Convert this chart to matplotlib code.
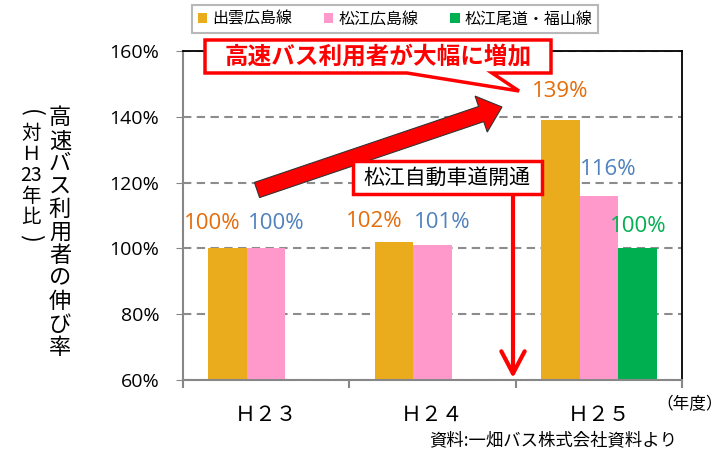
import matplotlib.pyplot as plt
from matplotlib.patches import Polygon, FancyArrow, FancyArrowPatch, Rectangle
import numpy as np

plt.rcParams['font.family'] = ['Noto Sans CJK JP', 'DejaVu Sans']

# data
years = ['Ｈ２３', 'Ｈ２４', 'Ｈ２５']
series = ['出雲広島線', '松江広島線', '松江尾道・福山線']
izumo = [100, 102, 139]
matsue = [100, 101, 116]
onomichi = [np.nan, np.nan, 100]
yticks = [60, 80, 100, 120, 140, 160]

bar_colors = ['#EAAC1C', '#FF99CC', '#00B050']
label_colors = ['#E46C0A', '#4F81BD', '#00B050']

W, H = 724, 453
fig = plt.figure(figsize=(W / 100, H / 100), dpi=100)
ax = fig.add_axes([183 / W, 1 - 380 / H, (682 - 183) / W, (380 - 51) / H])


def px(x, y):
    # pixel position (from top-left) -> inches for dpi_scale_trans
    return (x / 100, (H - y) / 100)


x = np.arange(len(years))
width = 0.232
# label nudges in pixels (dx, dy above the bar top), as placed by hand in the original
nudges = [[(-15, 25), (-20, 20), (0, 29)],
          [(10, 25), (10, 23), (9, 26)],
          [(0, 0), (0, 0), (1, 22)]]

handles = []
for i, vals in enumerate([izumo, matsue, onomichi]):
    pos = x + (i - 1) * width
    b = ax.bar(pos, vals, width, color=bar_colors[i], label=series[i], zorder=2)
    handles.append(b)
    for j, (p, v) in enumerate(zip(pos, vals)):
        if np.isnan(v):
            continue
        dx, dy = nudges[i][j]
        ax.annotate(f'{v:.0f}%', xy=(p, v), xytext=(dx, dy), textcoords='offset pixels',
                    ha='center', va='center', color=label_colors[i], fontsize=16,
                    family='Open Sans', zorder=5)

ax.set_ylim(60, 160)
ax.set_yticks(yticks)
ax.set_yticklabels([f'{t}%' for t in yticks], family='Open Sans', fontsize=14)
ax.tick_params(axis='y', direction='out', length=5, color='#878787', pad=12)

ax.set_xlim(-0.5, 2.5)
ax.set_xticks([-0.5, 0.5, 1.5, 2.5])
ax.set_xticklabels([])
ax.set_xticks(x, minor=True)
ax.set_xticklabels(years, minor=True, fontsize=15)
ax.tick_params(axis='x', which='major', direction='out', length=6, color='#878787', width=1.5)
ax.tick_params(axis='x', which='minor', length=0, pad=17)

for s in ['left', 'bottom']:
    ax.spines[s].set_color('#878787')
    ax.spines[s].set_linewidth(1.5)
for s in ['top', 'right']:
    ax.spines[s].set_color('black')
    ax.spines[s].set_linewidth(1.3)

ax.set_axisbelow(True)
ax.yaxis.grid(True, color='#8C8C8C', linestyle=(0, (4, 2.6)), linewidth=1.5)

# vertical y label (two columns)
col1 = '高速バス利用者の伸び率'
for k, ch in enumerate(col1):
    fig.text(60 / W, 1 - (118 + 22.9 * k) / H, ch, ha='center', va='center', fontsize=16)
col2 = ['(', '対', 'Ｈ', '23', '年', '比', ')']
for k, ch in enumerate(col2):
    paren = ch in '()'
    fig.text(31 / W, 1 - (113 + 20.8 * k) / H, ch, ha='center', va='center',
             fontsize=17 if paren else 14, rotation=-90 if paren else 0)

# legend
leg = fig.legend(handles, series, loc='center', bbox_to_anchor=(395 / W, 1 - 19 / H),
                 ncol=3, frameon=True, fancybox=False, edgecolor='#A6A6A6',
                 fontsize=11.5, handlelength=0.6, handleheight=0.6, handletextpad=0.3,
                 columnspacing=2.0, borderpad=0.35)
leg.get_frame().set_linewidth(1.5)

# callout "高速バス利用者が大幅に増加"
pts = [(205, 40), (551, 40), (551, 73), (492, 73), (519, 91), (407, 73), (205, 73)]
fig.add_artist(Polygon([px(a, b) for a, b in pts], closed=True, transform=fig.dpi_scale_trans,
                       facecolor='white', edgecolor='red', linewidth=2.5, zorder=3))
fig.text(378 / W, 1 - 57 / H, '高速バス利用者が大幅に増加', color='red', fontsize=17,
         fontweight='bold', ha='center', va='center', zorder=4)

# big rising arrow
tx, ty = px(257, 190)
hx, hy = px(502, 107)
fig.add_artist(FancyArrow(tx, ty, hx - tx, hy - ty, width=0.16, head_width=0.38,
                          head_length=0.22, length_includes_head=True,
                          transform=fig.dpi_scale_trans, facecolor='red',
                          edgecolor='#333333', linewidth=0.8, zorder=3))

# "松江自動車道開通" box and arrow
fig.add_artist(FancyArrowPatch(px(513, 194), px(513, 378),
                               arrowstyle='->,head_length=0.8,head_width=0.42',
                               mutation_scale=20, color='red', linewidth=3,
                               transform=fig.dpi_scale_trans, shrinkA=0, shrinkB=0, zorder=3))
bx, by = px(353, 194)
fig.add_artist(Rectangle((bx, by), 1.89, 0.33, transform=fig.dpi_scale_trans,
                         facecolor='white', edgecolor='red', linewidth=2.5, zorder=3))
fig.text(447 / W, 1 - 178 / H, '松江自動車道開通', color='black', fontsize=15,
         ha='center', va='center', zorder=4)

fig.text(656 / W, 1 - 405 / H, '（年度）', fontsize=12, ha='left', va='center')
fig.text(677 / W, 1 - 440 / H, '資料:一畑バス株式会社資料より', fontsize=12.5,
         ha='right', va='center')

fig.savefig('out.png', dpi=100)
